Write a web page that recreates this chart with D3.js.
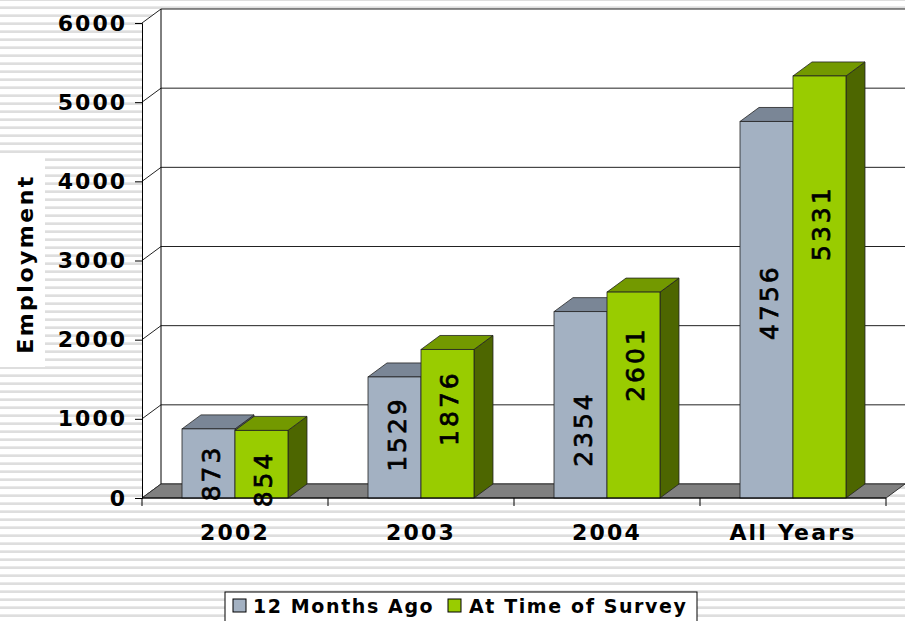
<!DOCTYPE html>
<html>
<head>
<meta charset="UTF-8">
<script src="https://d3js.org/d3.v7.min.js"></script>
<style>
    body { margin: 0; background: #fff; }
    svg { display: block; font-family: "DejaVu Sans", Verdana, sans-serif; }
    .bold { font-weight: bold; }
</style>
</head>
<body>
<svg id="chart" width="905" height="621"></svg>
<script>
    // data
    const categories = ["2002", "2003", "2004", "All Years"];
    const series = ["12 Months Ago", "At Time of Survey"];
    const monthsAgo = [873, 1529, 2354, 4756];
    const atSurvey = [854, 1876, 2601, 5331];
    // where the value labels sit, in employment units
    const monthsAgoLabelAt = [316, 808, 871, 2475];
    const atSurveyLabelAt = [240, 1136, 1692, 3472];
    const yTicks = [0, 1000, 2000, 3000, 4000, 5000, 6000];

    const width = 905, height = 621;
    const dx = 19, dy = 14; // 3d depth
    const colors = {
        "12 Months Ago": { front: "#a3b1c2", top: "#7a8696", side: "#56606b" },
        "At Time of Survey": { front: "#99cc00", top: "#739900", side: "#4d6600" }
    };

    const svg = d3.select("#chart");

    // striped background
    const defs = svg.append("defs");
    const pat = defs.append("pattern")
        .attr("id", "stripes")
        .attr("patternUnits", "userSpaceOnUse")
        .attr("width", 8).attr("height", 8)
        .attr("y", 6);
    pat.append("rect").attr("width", 8).attr("height", 8).attr("fill", "#fff");
    pat.append("rect").attr("y", 0).attr("width", 8).attr("height", 1).attr("fill", "#e9e9e9");
    pat.append("rect").attr("y", 1).attr("width", 8).attr("height", 2).attr("fill", "#dedede");

    svg.append("rect").attr("width", width).attr("height", height).attr("fill", "url(#stripes)");

    const y = d3.scaleLinear().domain([0, 6000]).range([498, 23]);
    const x = d3.scaleBand().domain(categories).range([142, 886]);
    const xs = d3.scaleBand().domain(series).range([0, x.bandwidth()]).paddingOuter(0.755);

    const x0 = 142, x1 = 886;
    const g = svg.append("g");

    // walls
    g.append("polygon")
        .attr("points", [[x0 + dx, y(6000) - dy], [width, y(6000) - dy], [width, y(0) - dy], [x0 + dx, y(0) - dy]].join(" "))
        .attr("fill", "#fff");
    g.append("polygon")
        .attr("points", [[x0, y(6000)], [x0 + dx, y(6000) - dy], [x0 + dx, y(0) - dy], [x0, y(0)]].join(" "))
        .attr("fill", "#fff");

    // gridlines
    yTicks.forEach(t => {
        g.append("path")
            .attr("d", `M${x0},${y(t)}L${x0 + dx},${y(t) - dy}L${width},${y(t) - dy}`)
            .attr("fill", "none").attr("stroke", "#222").attr("stroke-width", 1);
    });
    g.append("line")
        .attr("x1", x0 + dx).attr("x2", x0 + dx)
        .attr("y1", y(6000) - dy).attr("y2", y(0) - dy)
        .attr("stroke", "#000");

    // floor
    g.append("polygon")
        .attr("points", [[x0, y(0)], [x0 + dx, y(0) - dy], [width, y(0) - dy], [x1, y(0)]].join(" "))
        .attr("fill", "#808080").attr("stroke", "#333").attr("stroke-width", 1);

    // bars
    const rows = [];
    categories.forEach((c, i) => {
        rows.push({ cat: c, key: series[0], value: monthsAgo[i], labelAt: monthsAgoLabelAt[i] });
        rows.push({ cat: c, key: series[1], value: atSurvey[i], labelAt: atSurveyLabelAt[i] });
    });
    const bw = xs.bandwidth();
    rows.forEach(d => {
        const bx = x(d.cat) + xs(d.key);
        const top = y(d.value), base = y(0);
        const col = colors[d.key];
        const bar = g.append("g");
        bar.append("polygon")
            .attr("points", [[bx + bw, top], [bx + bw + dx, top - dy], [bx + bw + dx, base - dy], [bx + bw, base]].join(" "))
            .attr("fill", col.side).attr("stroke", "#222").attr("stroke-width", 0.8);
        bar.append("polygon")
            .attr("points", [[bx, top], [bx + dx, top - dy], [bx + bw + dx, top - dy], [bx + bw, top]].join(" "))
            .attr("fill", col.top).attr("stroke", "#222").attr("stroke-width", 0.8);
        bar.append("rect")
            .attr("x", bx).attr("y", top).attr("width", bw).attr("height", base - top)
            .attr("fill", col.front).attr("stroke", "#222").attr("stroke-width", 0.8);
        d.cx = bx + bw / 2;
    });

    // value labels
    rows.forEach(d => {
        g.append("text")
            .attr("transform", `translate(${d.cx + 11},${y(d.labelAt)}) rotate(-90)`)
            .attr("text-anchor", "middle")
            .style("font-size", "25px")
            .style("letter-spacing", "3px")
            .attr("fill", "#000")
            .attr("stroke", "#000")
            .attr("stroke-width", 0.7)
            .text(d.value);
    });

    // category axis
    g.append("line").attr("x1", x0).attr("x2", x1).attr("y1", y(0)).attr("y2", y(0)).attr("stroke", "#000");
    categories.concat([null]).forEach(c => {
        const tx = c === null ? x1 : x(c);
        g.append("line").attr("x1", tx).attr("x2", tx).attr("y1", y(0)).attr("y2", y(0) + 8).attr("stroke", "#000");
    });
    categories.forEach(c => {
        g.append("text")
            .attr("class", "bold")
            .attr("x", x(c) + x.bandwidth() / 2)
            .attr("y", 540)
            .attr("text-anchor", "middle")
            .style("font-size", "22px")
            .style("letter-spacing", "2.2px")
            .text(c);
    });

    // value axis
    const yAxis = g.append("g")
        .attr("transform", `translate(${x0},0)`)
        .call(d3.axisLeft(y).tickValues(yTicks).tickSize(7).tickPadding(8).tickFormat(d3.format("d")));
    yAxis.select(".domain").attr("stroke", "#000");
    yAxis.selectAll("text")
        .attr("class", "bold")
        .attr("fill", "#000")
        .style("font-size", "22px")
        .style("letter-spacing", "2px")
        .style("font-family", "DejaVu Sans, sans-serif");

    // axis title
    svg.append("rect").attr("x", 0).attr("y", 155).attr("width", 45).attr("height", 212).attr("fill", "#fff");
    svg.append("text")
        .attr("class", "bold")
        .attr("transform", "translate(33,264) rotate(-90)")
        .attr("text-anchor", "middle")
        .style("font-size", "22px")
        .style("letter-spacing", "2.5px")
        .text("Employment");

    // legend
    const lg = svg.append("g").attr("transform", "translate(225,592)");
    lg.append("rect").attr("width", 472).attr("height", 40).attr("fill", "#fff").attr("stroke", "#000");
    const items = [{ key: series[0], sx: 8, tx: 28 }, { key: series[1], sx: 223, tx: 244 }];
    items.forEach(it => {
        lg.append("rect").attr("x", it.sx).attr("y", 7).attr("width", 13).attr("height", 13)
            .attr("fill", colors[it.key].front).attr("stroke", "#000");
        lg.append("text").attr("class", "bold")
            .attr("x", it.tx).attr("y", 21)
            .style("font-size", "19px")
            .style("letter-spacing", "1.6px")
            .text(it.key);
    });
</script>
</body>
</html>
